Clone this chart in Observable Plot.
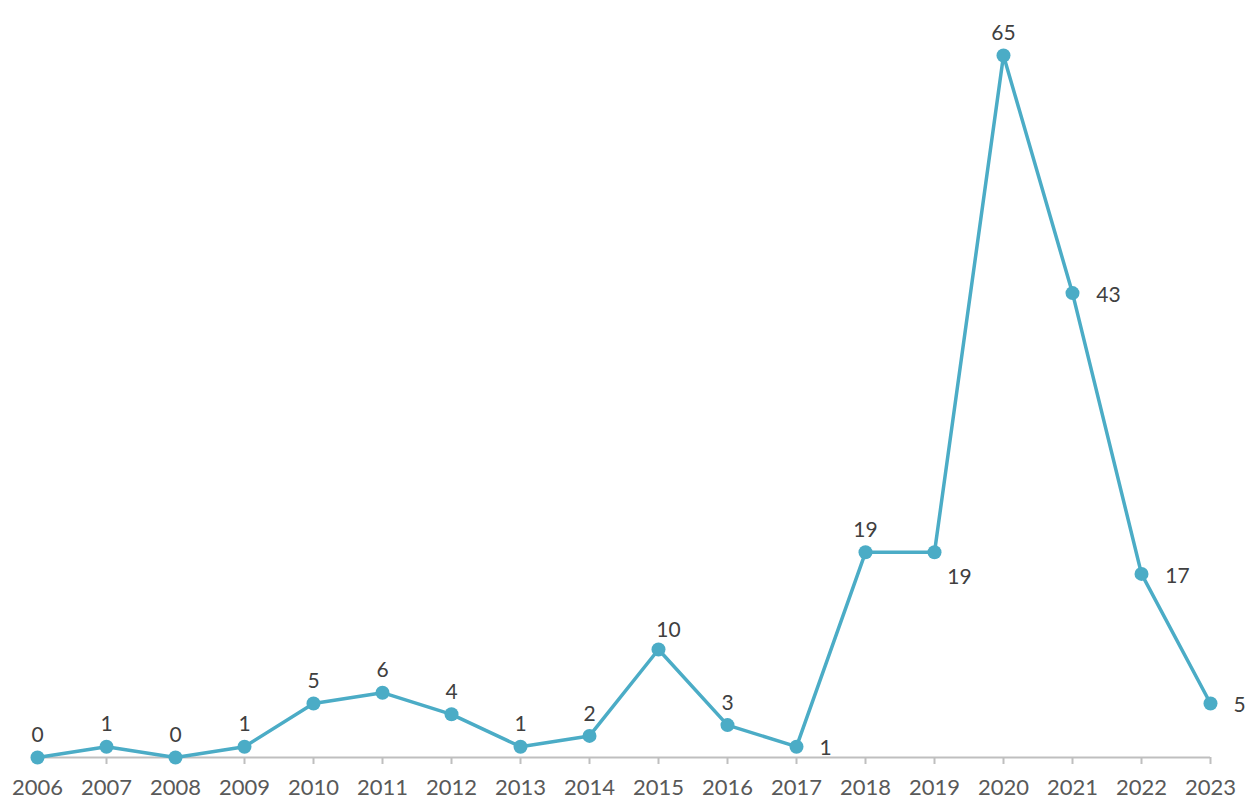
<!DOCTYPE html>
<html>
<head>
<meta charset="utf-8">
<script src="https://cdn.jsdelivr.net/npm/d3@7"></script>
<script src="https://cdn.jsdelivr.net/npm/@observablehq/plot@0.6"></script>
<style>
  html, body { margin: 0; padding: 0; background: #fff; }
  #chart svg { display: block; }
</style>
</head>
<body>
<div id="chart"></div>
<script>
const years = ["2006","2007","2008","2009","2010","2011","2012","2013","2014","2015","2016","2017","2018","2019","2020","2021","2022","2023"];
const counts = [0, 1, 0, 1, 5, 6, 4, 1, 2, 10, 3, 1, 19, 19, 65, 43, 17, 5];
// label placement groups
const rightLabelYears = ["2021", "2022"];
const rightNearLabelYears = ["2017", "2023"];
const belowRightLabelYears = ["2019"];
const aboveRightLabelYears = ["2015"];

const data = years.map((y, i) => ({year: y, value: counts[i]}));
const special = [...rightLabelYears, ...rightNearLabelYears, ...belowRightLabelYears, ...aboveRightLabelYears];
const above = data.filter(d => !special.includes(d.year));
const right = data.filter(d => rightLabelYears.includes(d.year));
const rightNear = data.filter(d => rightNearLabelYears.includes(d.year));
const belowRight = data.filter(d => belowRightLabelYears.includes(d.year));
const aboveRight = data.filter(d => aboveRightLabelYears.includes(d.year));

const font = "Lato, 'Noto Sans', sans-serif";
const lineColor = "#4BACC6";
const labelColor = "#404040";

const chart = Plot.plot({
  width: 1248,
  height: 799,
  marginTop: 55,
  marginBottom: 42,
  marginLeft: 36,
  marginRight: 38,
  style: {fontFamily: font, background: "#fff"},
  x: {type: "point", domain: years, padding: 0, label: null},
  y: {domain: [0, 65], axis: null},
  marks: [
    Plot.ruleY([0], {stroke: "#bfbfbf", strokeWidth: 2}),
    Plot.axisX({
      tickSize: 7,
      tickPadding: 15,
      stroke: "#bfbfbf",
      strokeWidth: 2,
      fill: "#595959",
      fontSize: 22,
      label: null
    }),
    Plot.line(data, {x: "year", y: "value", stroke: lineColor, strokeWidth: 3.5}),
    Plot.dot(data, {x: "year", y: "value", fill: lineColor, r: 7}),
    Plot.text(above, {x: "year", y: "value", text: d => String(d.value), dy: -22, fill: labelColor, fontSize: 21}),
    Plot.text(aboveRight, {x: "year", y: "value", text: d => String(d.value), dx: 10, dy: -19, fill: labelColor, fontSize: 21}),
    Plot.text(right, {x: "year", y: "value", text: d => String(d.value), dx: 36, dy: 2, fill: labelColor, fontSize: 21}),
    Plot.text(rightNear, {x: "year", y: "value", text: d => String(d.value), dx: 29, dy: 2, fill: labelColor, fontSize: 21}),
    Plot.text(belowRight, {x: "year", y: "value", text: d => String(d.value), dx: 25, dy: 25, fill: labelColor, fontSize: 21})
  ]
});
document.getElementById("chart").appendChild(chart);
</script>
</body>
</html>
